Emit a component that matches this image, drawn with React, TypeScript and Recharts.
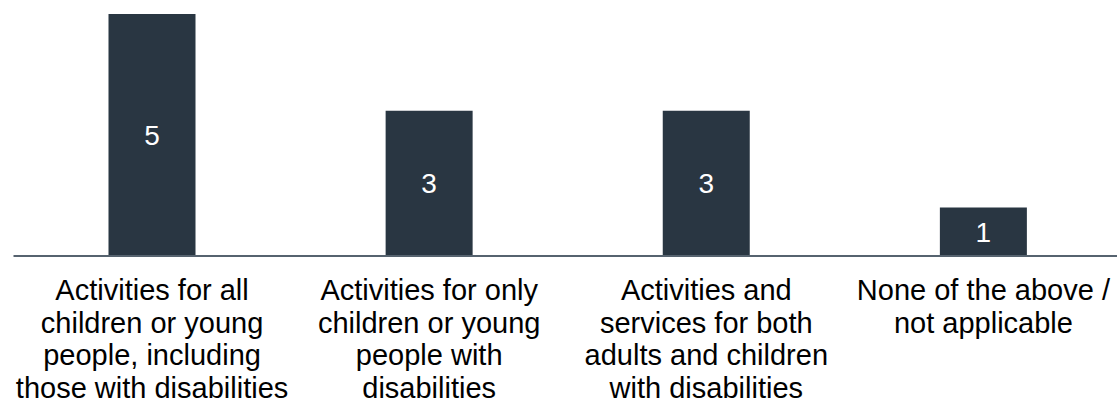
import { BarChart, Bar, XAxis, YAxis, LabelList } from "recharts";

const categories = [
  "Activities for all\nchildren or young\npeople, including\nthose with disabilities",
  "Activities for only\nchildren or young\npeople with\ndisabilities",
  "Activities and\nservices for both\nadults and children\nwith disabilities",
  "None of the above /\nnot applicable",
];
const counts = [5, 3, 3, 1];

const data = categories.map((name, i) => ({ name, value: counts[i] }));

const FONT = "'Liberation Sans', Arial, sans-serif";

function WrappedTick(props: any) {
  const { x, y, payload } = props;
  const lines: string[] = String(payload.value).split("\n");
  return (
    <text x={x} y={y} textAnchor="middle" fill="#000" fontSize={29} fontFamily={FONT}>
      {lines.map((line, i) => (
        <tspan key={i} x={x} dy={i === 0 ? 44 : 32.7}>
          {line}
        </tspan>
      ))}
    </text>
  );
}

export default function App() {
  return (
    <div style={{ position: "absolute", left: 0, top: 0, width: 1117, height: 403, overflow: "hidden", background: "#fff" }}>
      <BarChart
        width={1122}
        height={403}
        data={data}
        margin={{ top: 14, right: 0, bottom: 0, left: 13.5 }}
        barCategoryGap={0}
      >
        <XAxis
          dataKey="name"
          height={147}
          interval={0}
          tickLine={false}
          tickSize={0}
          tickMargin={0}
          axisLine={{ stroke: "#56636f", strokeWidth: 2 }}
          tick={<WrappedTick />}
        />
        <YAxis hide domain={[0, 5]} />
        <Bar dataKey="value" fill="#293642" barSize={87} isAnimationActive={false}>
          <LabelList dataKey="value" position="center" fill="#fff" fontSize={28} fontFamily={FONT} />
        </Bar>
      </BarChart>
    </div>
  );
}
